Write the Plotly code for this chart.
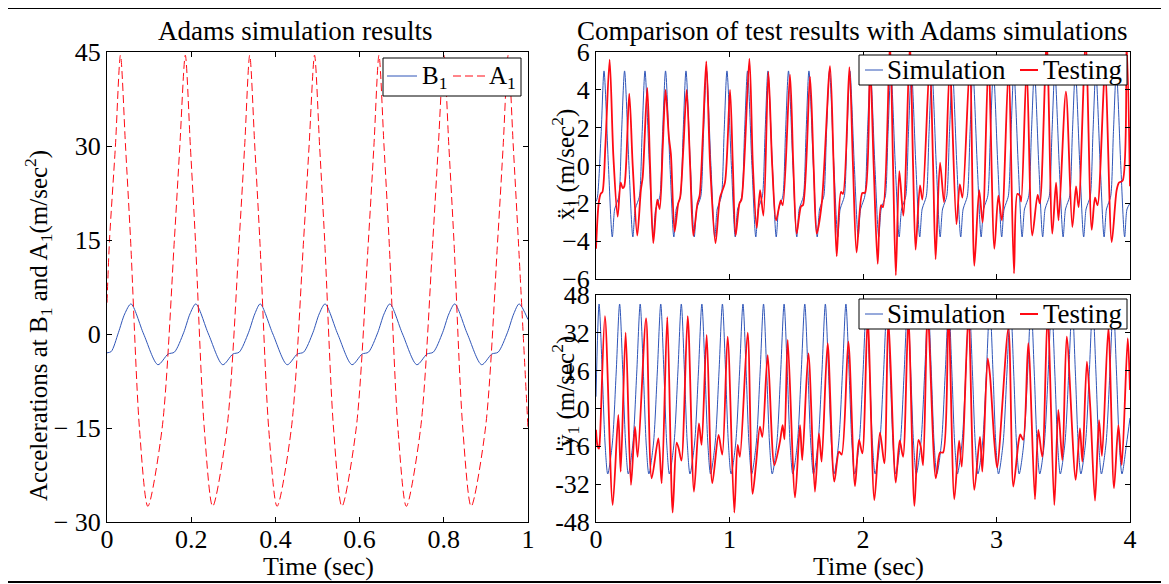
import plotly.graph_objects as go

# ---- left panel: Adams simulation, 0-1 s ----
b1_t = [0.000, 0.010, 0.027, 0.042,
        0.057, 0.087, 0.121, 0.145, 0.160, 0.182, 0.197,
        0.211, 0.241, 0.275, 0.299, 0.314, 0.336, 0.351,
        0.364, 0.394, 0.428, 0.452, 0.467, 0.489, 0.504,
        0.518, 0.548, 0.582, 0.606, 0.621, 0.643, 0.658,
        0.672, 0.702, 0.736, 0.760, 0.775, 0.797, 0.812,
        0.826, 0.856, 0.890, 0.914, 0.929, 0.951, 0.966,
        0.979, 1.000]
b1_v = [-3.0, -2.8, 0.2, 3.2,
        4.8, 0.0, -4.9, -3.2, -2.9, 0.2, 3.2,
        4.8, 0.0, -4.9, -3.2, -2.9, 0.2, 3.2,
        4.8, 0.0, -4.9, -3.2, -2.9, 0.2, 3.2,
        4.8, 0.0, -4.9, -3.2, -2.9, 0.2, 3.2,
        4.8, 0.0, -4.9, -3.2, -2.9, 0.2, 3.2,
        4.8, 0.0, -4.9, -3.2, -2.9, 0.2, 3.2,
        4.8, 2.3]

a1_t = [0.000, 0.006, 0.020,
        0.032, 0.044, 0.056, 0.077, 0.097, 0.131, 0.160, 0.173,
        0.186, 0.198, 0.210, 0.231, 0.251, 0.285, 0.314, 0.327,
        0.339, 0.351, 0.363, 0.384, 0.404, 0.438, 0.467, 0.480,
        0.493, 0.505, 0.517, 0.538, 0.558, 0.592, 0.621, 0.634,
        0.646, 0.658, 0.670, 0.691, 0.711, 0.745, 0.774, 0.787,
        0.800, 0.812, 0.824, 0.845, 0.865, 0.899, 0.928, 0.941,
        0.953, 0.965, 0.977, 1.000]
a1_v = [5.0, 15, 30,
        44.5, 30, 15, -15, -27.5, -15, 15, 30,
        44.5, 30, 15, -15, -27.5, -15, 15, 30,
        44.5, 30, 15, -15, -27.5, -15, 15, 30,
        44.5, 30, 15, -15, -27.5, -15, 15, 30,
        44.5, 30, 15, -15, -27.5, -15, 15, 30,
        44.5, 30, 15, -15, -27.5, -15, 15, 30,
        44.5, 30, 15, -15]

# ---- right top: x acceleration, 0-4 s ----
simx_t = [0.000, 0.010, 0.039,
          0.060, 0.093, 0.122, 0.140, 0.157, 0.172, 0.192,
          0.214, 0.247, 0.276, 0.294, 0.311, 0.326, 0.346,
          0.367, 0.400, 0.429, 0.447, 0.464, 0.479, 0.499,
          0.521, 0.554, 0.583, 0.601, 0.618, 0.633, 0.653,
          0.674, 0.707, 0.736, 0.754, 0.771, 0.786, 0.806,
          0.828, 0.861, 0.890, 0.908, 0.925, 0.940, 0.960,
          0.981, 1.014, 1.043, 1.061, 1.078, 1.093, 1.113,
          1.135, 1.168, 1.197, 1.215, 1.232, 1.247, 1.267,
          1.288, 1.321, 1.350, 1.368, 1.385, 1.400, 1.420,
          1.442, 1.475, 1.504, 1.522, 1.539, 1.554, 1.574,
          1.595, 1.628, 1.657, 1.675, 1.692, 1.707, 1.727,
          1.749, 1.782, 1.811, 1.829, 1.846, 1.861, 1.881,
          1.902, 1.935, 1.964, 1.982, 1.999, 2.014, 2.034,
          2.056, 2.089, 2.118, 2.136, 2.153, 2.168, 2.188,
          2.209, 2.242, 2.271, 2.289, 2.306, 2.321, 2.341,
          2.363, 2.396, 2.425, 2.443, 2.460, 2.475, 2.495,
          2.516, 2.549, 2.578, 2.596, 2.613, 2.628, 2.648,
          2.670, 2.703, 2.732, 2.750, 2.767, 2.782, 2.802,
          2.823, 2.856, 2.885, 2.903, 2.920, 2.935, 2.955,
          2.977, 3.010, 3.039, 3.057, 3.074, 3.089, 3.109,
          3.130, 3.163, 3.192, 3.210, 3.227, 3.242, 3.262,
          3.284, 3.317, 3.346, 3.364, 3.381, 3.396, 3.416,
          3.437, 3.470, 3.499, 3.517, 3.534, 3.549, 3.569,
          3.591, 3.624, 3.653, 3.671, 3.688, 3.703, 3.723,
          3.744, 3.777, 3.806, 3.824, 3.841, 3.856, 3.876,
          3.898, 3.931, 3.960, 3.978, 4.000]
simx_v = [-1.9, -1.7, 1.8,
          5.0, 0.0, -3.78, -2.3, -1.95, -1.6, 1.8,
          5.0, 0.0, -3.78, -2.3, -1.95, -1.6, 1.8,
          5.0, 0.0, -3.78, -2.3, -1.95, -1.6, 1.8,
          5.0, 0.0, -3.78, -2.3, -1.95, -1.6, 1.8,
          5.0, 0.0, -3.78, -2.3, -1.95, -1.6, 1.8,
          5.0, 0.0, -3.78, -2.3, -1.95, -1.6, 1.8,
          5.0, 0.0, -3.78, -2.3, -1.95, -1.6, 1.8,
          5.0, 0.0, -3.78, -2.3, -1.95, -1.6, 1.8,
          5.0, 0.0, -3.78, -2.3, -1.95, -1.6, 1.8,
          5.0, 0.0, -3.78, -2.3, -1.95, -1.6, 1.8,
          5.0, 0.0, -3.78, -2.3, -1.95, -1.6, 1.8,
          5.0, 0.0, -3.78, -2.3, -1.95, -1.6, 1.8,
          5.0, 0.0, -3.78, -2.3, -1.95, -1.6, 1.8,
          5.0, 0.0, -3.78, -2.3, -1.95, -1.6, 1.8,
          5.0, 0.0, -3.78, -2.3, -1.95, -1.6, 1.8,
          5.0, 0.0, -3.78, -2.3, -1.95, -1.6, 1.8,
          5.0, 0.0, -3.78, -2.3, -1.95, -1.6, 1.8,
          5.0, 0.0, -3.78, -2.3, -1.95, -1.6, 1.8,
          5.0, 0.0, -3.78, -2.3, -1.95, -1.6, 1.8,
          5.0, 0.0, -3.78, -2.3, -1.95, -1.6, 1.8,
          5.0, 0.0, -3.78, -2.3, -1.95, -1.6, 1.8,
          5.0, 0.0, -3.78, -2.3, -1.95, -1.6, 1.8,
          5.0, 0.0, -3.78, -2.3, -1.95, -1.6, 1.8,
          5.0, 0.0, -3.78, -2.3, -1.95, -1.6, 1.8,
          5.0, 0.0, -3.78, -2.3, -1.95, -1.6, 1.8,
          5.0, 0.0, -3.78, -2.3, -2.0]

testx_t = [0.000, 0.020, 0.035, 0.048, 0.070, 0.102, 0.130, 0.162, 0.185, 0.200,
           0.212, 0.249, 0.275, 0.309, 0.336, 0.350, 0.384, 0.405, 0.429, 0.459,
           0.477, 0.500, 0.521, 0.546, 0.561, 0.589, 0.616, 0.630, 0.655, 0.679,
           0.705, 0.729, 0.760, 0.776, 0.800, 0.826, 0.855, 0.895, 0.929, 0.966,
           1.004, 1.025, 1.046, 1.075, 1.090, 1.149, 1.175, 1.204, 1.229, 1.254,
           1.291, 1.320, 1.349, 1.384, 1.399, 1.453, 1.478, 1.503, 1.536, 1.550,
           1.603, 1.630, 1.653, 1.691, 1.753, 1.780, 1.803, 1.835, 1.850, 1.898,
           1.925, 1.952, 1.995, 2.015, 2.053, 2.080, 2.110, 2.135, 2.150, 2.202,
           2.225, 2.246, 2.272, 2.302, 2.352, 2.375, 2.394, 2.427, 2.445, 2.500,
           2.525, 2.544, 2.577, 2.607, 2.650, 2.700, 2.725, 2.745, 2.800, 2.834,
           2.870, 2.896, 2.940, 2.984, 3.014, 3.040, 3.090, 3.131, 3.156, 3.175,
           3.185, 3.226, 3.268, 3.308, 3.325, 3.376, 3.418, 3.446, 3.465, 3.520,
           3.568, 3.596, 3.615, 3.668, 3.713, 3.738, 3.757, 3.813, 3.863, 3.900,
           3.918, 3.945, 3.975, 4.000]
testx_v = [-4.4, -2.0, -1.5, -1.4, 1.0, 5.6, 0.5, -2.7, -0.9, -1.2,
           -1.1, 3.8, 0.0, -3.7, -1.3, -0.6, 4.1, 0.0, -4.1, -1.8,
           -2.3, 1.0, 4.0, 1.5, 0.6, -3.5, -2.0, -1.7, 1.0, 4.0,
           0.0, -3.7, -2.0, -1.6, 1.5, 5.5, 0.0, -4.1, -1.7, -0.9,
           4.0, 0.0, -3.7, -2.0, -1.8, 5.65, 0.0, -3.3, -1.3, -2.65,
           4.95, 0.0, -2.9, -1.85, -2.1, 4.8, 0.0, -3.6, -2.15, -2.1,
           4.7, 0.0, -3.6, -2.0, 5.25, 0.0, -4.8, -1.4, -1.5, 5.2,
           0.0, -4.6, -1.45, -1.45, 5.3, 0.0, -5.2, -2.1, -2.2, 6.5,
           0.0, -5.8, -0.3, -2.65, 6.5, 0.0, -4.45, -1.05, -1.8, 5.5,
           0.0, -4.95, 0.15, -1.95, 5.2, -3.1, -1.0, -1.7, 5.3, -5.3,
           -1.3, -3.0, 5.5, -4.4, -1.6, -2.9, 5.0, -5.7, -1.5, -1.6,
           -1.9, 5.2, -3.7, -1.55, -2.0, 6.5, -3.6, -0.9, -2.9, 3.9,
           -3.25, -1.1, -2.2, 6.5, -3.4, -1.7, -2.1, 5.0, -4.05, -1.3,
           -0.9, -0.8, 6.5, -1.1]

# ---- right bottom: y acceleration, 0-4 s ----
simy_t = [0.000,
          0.023, 0.047, 0.068, 0.088, 0.122, 0.151,
          0.177, 0.201, 0.222, 0.242, 0.276, 0.305,
          0.331, 0.355, 0.376, 0.396, 0.430, 0.459,
          0.485, 0.509, 0.530, 0.550, 0.584, 0.613,
          0.639, 0.663, 0.684, 0.704, 0.738, 0.767,
          0.793, 0.817, 0.838, 0.858, 0.892, 0.921,
          0.947, 0.971, 0.992, 1.012, 1.046, 1.075,
          1.101, 1.125, 1.146, 1.166, 1.200, 1.229,
          1.255, 1.279, 1.300, 1.320, 1.354, 1.383,
          1.409, 1.433, 1.454, 1.474, 1.508, 1.537,
          1.564, 1.588, 1.609, 1.629, 1.663, 1.692,
          1.718, 1.742, 1.763, 1.783, 1.817, 1.846,
          1.872, 1.896, 1.917, 1.937, 1.971, 2.000,
          2.026, 2.050, 2.071, 2.091, 2.125, 2.154,
          2.180, 2.204, 2.225, 2.245, 2.279, 2.308,
          2.334, 2.358, 2.379, 2.399, 2.433, 2.462,
          2.488, 2.512, 2.533, 2.553, 2.587, 2.616,
          2.642, 2.666, 2.687, 2.707, 2.741, 2.770,
          2.796, 2.820, 2.841, 2.861, 2.895, 2.924,
          2.950, 2.974, 2.995, 3.015, 3.049, 3.078,
          3.105, 3.129, 3.150, 3.170, 3.204, 3.233,
          3.259, 3.283, 3.304, 3.324, 3.358, 3.387,
          3.413, 3.437, 3.458, 3.478, 3.512, 3.541,
          3.567, 3.591, 3.612, 3.632, 3.666, 3.695,
          3.721, 3.745, 3.766, 3.786, 3.820, 3.849,
          3.875, 3.899, 3.920, 3.940, 3.974, 4.000]
simy_v = [5.0,
          44.2, 15, -15, -27.7, -15, 15,
          44.2, 15, -15, -27.7, -15, 15,
          44.2, 15, -15, -27.7, -15, 15,
          44.2, 15, -15, -27.7, -15, 15,
          44.2, 15, -15, -27.7, -15, 15,
          44.2, 15, -15, -27.7, -15, 15,
          44.2, 15, -15, -27.7, -15, 15,
          44.2, 15, -15, -27.7, -15, 15,
          44.2, 15, -15, -27.7, -15, 15,
          44.2, 15, -15, -27.7, -15, 15,
          44.2, 15, -15, -27.7, -15, 15,
          44.2, 15, -15, -27.7, -15, 15,
          44.2, 15, -15, -27.7, -15, 15,
          44.2, 15, -15, -27.7, -15, 15,
          44.2, 15, -15, -27.7, -15, 15,
          44.2, 15, -15, -27.7, -15, 15,
          44.2, 15, -15, -27.7, -15, 15,
          44.2, 15, -15, -27.7, -15, 15,
          44.2, 15, -15, -27.7, -15, 15,
          44.2, 15, -15, -27.7, -15, 15,
          44.2, 15, -15, -27.7, -15, 15,
          44.2, 15, -15, -27.7, -15, 15,
          44.2, 15, -15, -27.7, -15, 15,
          44.2, 15, -15, -27.7, -15, 15,
          44.2, 15, -15, -27.7, -15, 15,
          44.2, 15, -15, -27.7, -15, -4]

testy_t = [0.000, 0.012, 0.022, 0.030, 0.067, 0.125, 0.167, 0.185, 0.222, 0.262,
           0.292, 0.312, 0.375, 0.417, 0.467, 0.492, 0.534, 0.574, 0.604, 0.620,
           0.640, 0.687, 0.734, 0.771, 0.791, 0.829, 0.871, 0.918, 0.946, 0.986,
           1.036, 1.061, 1.078, 1.136, 1.173, 1.198, 1.228, 1.246, 1.286, 1.336,
           1.378, 1.398, 1.412, 1.436, 1.491, 1.528, 1.545, 1.591, 1.640, 1.670,
           1.690, 1.735, 1.785, 1.820, 1.840, 1.890, 1.940, 1.970, 1.995, 2.035,
           2.085, 2.127, 2.160, 2.190, 2.245, 2.275, 2.300, 2.340, 2.385, 2.415,
           2.432, 2.450, 2.485, 2.545, 2.577, 2.600, 2.640, 2.684, 2.720, 2.740,
           2.790, 2.834, 2.876, 2.894, 2.934, 2.951, 2.985, 3.005, 3.089, 3.126,
           3.164, 3.178, 3.200, 3.238, 3.288, 3.313, 3.343, 3.383, 3.433, 3.463,
           3.493, 3.526, 3.593, 3.625, 3.643, 3.677, 3.702, 3.738, 3.768, 3.790,
           3.838, 3.880, 3.913, 3.938, 3.983, 4.000]
testy_v = [-9.0, -16.0, -17.0, -12.0, 39.1, -40.8, -2.7, -26.7, 32.1, -32.3,
           -7.7, -20.4, 38.1, -29.5, -12.6, -31.6, 38.6, -44.0, -14.4, -17.0,
           -22.0, 39.1, -35.2, -6.3, -15.4, 31.1, -31.6, -11.2, -19.5, 30.4,
           -44.0, -15.4, -20.4, 32.1, -36.1, -23.9, -7.7, -12.0, 22.6, -23.9,
           -14.0, -7.0, -13.0, 29.0, -37.6, -7.0, -21.8, 23.3, -35.2, -10.5,
           -22.5, 27.6, -30.9, -18.2, -19.5, 28.3, -32.8, -13.3, -19.0, 38.0,
           -38.7, -10.2, -23.2, 38.0, -31.3, -13.5, -20.4, 38.0, -41.2, -13.3,
           -16.0, -24.0, 40.0, -29.5, -18.6, -18.6, 40.0, -38.4, -13.6, -24.6,
           40.0, -34.4, -12.0, -26.7, 21.2, 14.2, -15.0, -25.0, 34.0, -33.0,
           -14.7, -11.0, -13.3, 27.6, -38.4, -9.1, -20.4, 40.0, -40.8, -0.6,
           -21.8, 30.4, -30.2, -8.4, -22.5, 19.8, 0.8, -39.0, -4.9, -20.0,
           34.0, -33.7, -7.0, -23.9, 29.7, 7.8]

left_xticks = [0, 0.2, 0.4, 0.6, 0.8, 1]
left_xlabels = ["0", "0.2", "0.4", "0.6", "0.8", "1"]
left_yticks = [-30, -15, 0, 15, 30, 45]
left_ylabels = ["\u2212 30", "\u2212 15", "0", "15", "30", "45"]
right_xticks = [0, 1, 2, 3, 4]
right_xlabels = ["0", "1", "2", "3", "4"]
topy_ticks = [-6, -4, -2, 0, 2, 4, 6]
topy_labels = ["\u22126", "\u22124", "\u22122", "0", "2", "4", "6"]
boty_ticks = [-48, -32, -16, 0, 16, 32, 48]
boty_labels = ["-48", "-32", "-16", "0", "16", "32", "48"]

BLUE = "#2f55b8"
RED = "#ff0a14"
FONT = "Liberation Serif"

# the page puts the figure 8 px in from the corner; positions below are page pixels
OFF = 8
W, H = 1161, 576
ML, MT = 107 - OFF, 52 - OFF
MR, MB = W - (1130 - OFF), H - (522 - OFF)


def fx(p):
    return (p - OFF - ML) / (W - ML - MR)


def fy(p):
    return (H - MB - (p - OFF)) / (H - MT - MB)


fig = go.Figure()
spl = dict(shape="spline", smoothing=0.8)

fig.add_trace(go.Scatter(x=b1_t, y=b1_v, mode="lines", name="B1",
                         line=dict(color=BLUE, width=1, **spl), xaxis="x", yaxis="y"))
fig.add_trace(go.Scatter(x=a1_t, y=a1_v, mode="lines", name="A1",
                         line=dict(color=RED, width=1, dash="8px,4px", **spl), xaxis="x", yaxis="y"))
fig.add_trace(go.Scatter(x=simx_t, y=simx_v, mode="lines", name="Simulation",
                         line=dict(color=BLUE, width=1, **spl), xaxis="x2", yaxis="y2"))
fig.add_trace(go.Scatter(x=testx_t, y=testx_v, mode="lines", name="Testing",
                         line=dict(color=RED, width=1.8, **spl), xaxis="x2", yaxis="y2"))
fig.add_trace(go.Scatter(x=simy_t, y=simy_v, mode="lines", name="Simulation",
                         line=dict(color=BLUE, width=1, **spl), xaxis="x3", yaxis="y3"))
fig.add_trace(go.Scatter(x=testy_t, y=testy_v, mode="lines", name="Testing",
                         line=dict(color=RED, width=1.8, **spl), xaxis="x3", yaxis="y3"))

ax = dict(showline=True, linecolor="black", linewidth=1, mirror="ticks", ticks="inside",
          ticklen=5, tickcolor="black", showgrid=False, zeroline=False,
          tickfont=dict(size=26, color="black", family=FONT))

fig.update_layout(
    xaxis=dict(ax, domain=[0, fx(528)], range=[0, 1], anchor="y", ticklabelstandoff=-6,
               tickvals=left_xticks, ticktext=left_xlabels),
    yaxis=dict(ax, domain=[0, 1], range=[-30, 45], anchor="x",
               tickvals=left_yticks, ticktext=left_ylabels),
    xaxis2=dict(ax, domain=[fx(596), 1], range=[0, 4], anchor="y2",
                tickvals=right_xticks, showticklabels=False),
    yaxis2=dict(ax, domain=[fy(279), 1], range=[-6, 6], anchor="x2",
                tickvals=topy_ticks, ticktext=topy_labels),
    xaxis3=dict(ax, domain=[fx(596), 1], range=[0, 4], anchor="y3", ticklabelstandoff=-6,
                tickvals=right_xticks, ticktext=right_xlabels),
    yaxis3=dict(ax, domain=[0, fy(295)], range=[-48, 48], anchor="x3",
                tickvals=boty_ticks, ticktext=boty_labels),
)


def text(x, y, s, size=26, angle=0, anchor="center"):
    fig.add_annotation(xref="paper", yref="paper", x=fx(x), y=fy(y), text=s,
                       showarrow=False, xanchor=anchor, yanchor="middle", textangle=angle,
                       font=dict(size=size, color="black", family=FONT))


def segment(x0, x1, y, color, dash="solid", width=1):
    fig.add_shape(type="line", xref="paper", yref="paper",
                  x0=fx(x0), x1=fx(x1), y0=fy(y), y1=fy(y),
                  line=dict(color=color, width=width, dash=dash))


def box(x0, x1, y0, y1):
    fig.add_shape(type="rect", xref="paper", yref="paper",
                  x0=fx(x0), x1=fx(x1), y0=fy(y1), y1=fy(y0),
                  line=dict(color="black", width=1), fillcolor="white")


text(295, 31, "Adams simulation results", size=27)
text(852, 31, "Comparison of test results with Adams simulations", size=27)
text(318, 566, "Time (sec)")
text(868, 566, "Time (sec)")
text(38, 326, "Accelerations at B<sub>1</sub> and A<sub>1</sub>(m/sec<sup>2</sup>)", size=25, angle=-90)
text(565, 165, "\u1e8d<sub>1</sub> (m/sec<sup>2</sup>)", size=25, angle=-90)
text(565, 392, "\u00ff<sub>1</sub> (m/sec<sup>2</sup>)", size=25, angle=-90)

# legends drawn as boxes with line samples
box(383, 521, 58, 96)
segment(387, 417, 76, BLUE)
text(420, 78, "B<sub>1</sub>", size=25, anchor="left")
segment(453, 486, 76, RED, dash="8px,4px")
text(487, 78, "A<sub>1</sub>", size=25, anchor="left")

for top in (55, 299):
    box(859, 1127, top, top + 30)
    segment(865, 883, top + 15, BLUE)
    text(885, top + 15, "Simulation", size=27, anchor="left")
    segment(1020, 1038, top + 15, RED, width=2)
    text(1041, top + 15, "Testing", size=27, anchor="left")

# frame round the whole figure
fig.add_shape(type="rect", xref="paper", yref="paper",
              x0=fx(6), x1=fx(1166), y0=fy(582), y1=fy(8),
              line=dict(color="black", width=2))

fig.update_layout(
    width=W, height=H, showlegend=False,
    margin=dict(l=ML, r=MR, t=MT, b=MB),
    paper_bgcolor="white", plot_bgcolor="white",
    font=dict(family=FONT, color="black"),
)

fig.write_html("out.html")
